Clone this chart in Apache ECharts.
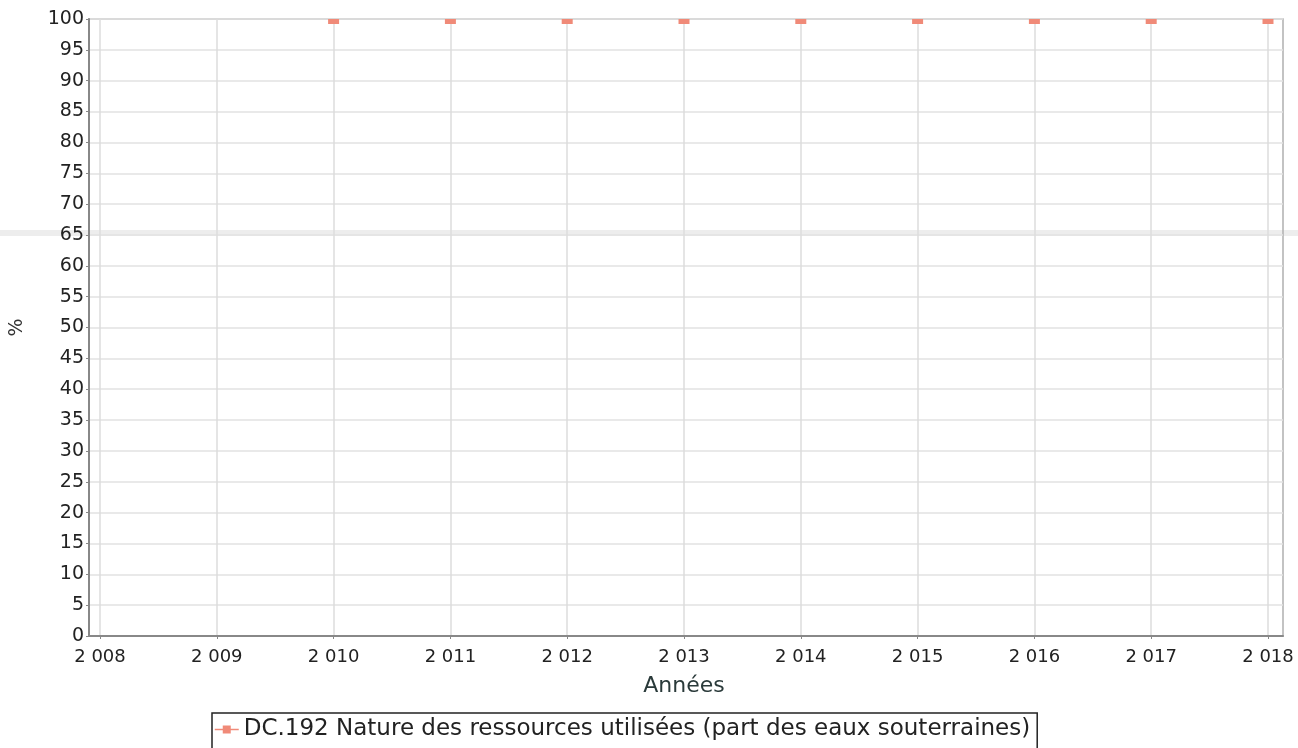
<!DOCTYPE html>
<html><head><meta charset="utf-8">
<script src="https://cdn.jsdelivr.net/npm/echarts@6/dist/echarts.min.js"></script>
<style>html,body{margin:0;padding:0;background:#fff}#c{width:1298px;height:748px}</style>
</head><body><div id="c"></div>
<script>
const years = [2010, 2011, 2012, 2013, 2014, 2015, 2016, 2017, 2018];
const values = [100, 100, 100, 100, 100, 100, 100, 100, 100];
const seriesName = 'DC.192 Nature des ressources utilisées (part des eaux souterraines)';
const yTitle = '%';
const xTitle = 'Années';

const font = 'DejaVu Sans';
const salmon = '#f08a78';
const chart = echarts.init(document.getElementById('c'));
chart.setOption({
  animation: false,
  graphic: [{type: 'rect', z: -10, silent: true,
    shape: {x: 0, y: 230, width: 1298, height: 6},
    style: {fill: '#ededed'}}],
  grid: [
    {left: 87, right: 15, top: 19, bottom: 112, show: true,
     backgroundColor: 'transparent', borderColor: '#b0b0b0', borderWidth: 1.5},
    {left: 100, right: 30, top: 19, bottom: 112, show: false}
  ],
  xAxis: [
    {gridIndex: 0, type: 'value', min: 0, max: 1, show: true,
     axisLine: {show: true, lineStyle: {color: '#888', width: 2}}, axisTick: {show: false},
     axisLabel: {show: false}, splitLine: {show: false}},
    {gridIndex: 1, type: 'value', min: 2008, max: 2018, interval: 1,
     name: xTitle, nameLocation: 'middle', nameGap: 39,
     nameTextStyle: {fontFamily: font, fontSize: 22, color: '#2a3a3a'},
     axisLine: {show: false}, axisTick: {show: true, length: 3, lineStyle: {color: '#888'}},
     axisLabel: {fontFamily: font, fontSize: 18, color: '#222', margin: 12,
       formatter: v => String(v).replace(/^(\d)(\d{3})$/, '$1 $2')},
     splitLine: {show: true, lineStyle: {color: '#dcdcdc', width: 1.5}}}
  ],
  yAxis: [
    {gridIndex: 0, type: 'value', min: 0, max: 100, interval: 5,
     name: yTitle, nameLocation: 'middle', nameGap: 62, nameRotate: 90,
     nameTextStyle: {fontFamily: font, fontSize: 19, color: '#333'},
     axisLine: {show: true, lineStyle: {color: '#888', width: 2}},
     axisTick: {show: true, length: 3, lineStyle: {color: '#888'}},
     axisLabel: {fontFamily: font, fontSize: 19, color: '#222', margin: 5},
     splitLine: {show: true, lineStyle: {color: '#e2e2e2', width: 1.5}}},
    {gridIndex: 1, type: 'value', min: 0, max: 100, show: false}
  ],
  legend: {
    top: 713, left: 212,
    itemWidth: 24, itemHeight: 10, itemGap: 5,
    padding: [5, 7, 10, 2],
    borderColor: '#222', borderWidth: 1.5,
    textStyle: {fontFamily: font, fontSize: 23, color: '#222'},
    lineStyle: {color: salmon, opacity: 1, width: 1.5},
    data: [seriesName]
  },
  series: [{
    name: seriesName, type: 'line', xAxisIndex: 1, yAxisIndex: 1,
    data: years.map((y, i) => [y, values[i]]),
    symbol: 'rect', symbolSize: [11, 5], symbolOffset: [0, 2.5], showSymbol: true,
    itemStyle: {color: salmon},
    lineStyle: {color: salmon, width: 1.5, opacity: 0},
    clip: false
  }]
});
</script></body></html>
